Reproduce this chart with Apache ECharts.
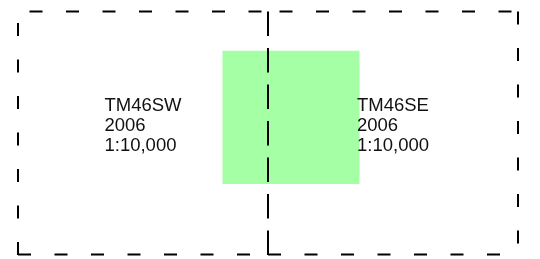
<!DOCTYPE html>
<html>
<head>
<meta charset="utf-8">
<script src="https://cdn.jsdelivr.net/npm/echarts@6/dist/echarts.min.js"></script>
<style>
    html, body { margin: 0; padding: 0; background: #fff; }
    #chart { width: 540px; height: 259px; }
</style>
</head>
<body>
<div id="chart"></div>
<script>
// map sheets (OS grid, metres)
const sheetNames = ['TM46SW', 'TM46SE'];
const sheetYears = ['2006', '2006'];
const sheetScales = ['1:10,000', '1:10,000'];
const sheetEastMin = [640000, 645000];
const sheetEastMax = [645000, 650000];
const sheetNorthMin = [260000, 260000];
const sheetNorthMax = [265000, 265000];

// area of interest (green square)
const areaEast = [644090, 646830];
const areaNorth = [261450, 264190];

const labelFont = '18.5px "Liberation Sans", Arial, sans-serif';

function textWidth(str, font) {
    const ctx = document.createElement('canvas').getContext('2d');
    ctx.font = font;
    return ctx.measureText(str).width;
}

function initChart() {
    const chart = echarts.init(document.getElementById('chart'));

    // each edge gets its own dash phase, like the original
    function dashedEdge(from, to, offset) {
        return {
            type: 'line',
            shape: { x1: from[0], y1: from[1], x2: to[0], y2: to[1] },
            style: {
                stroke: '#000',
                lineWidth: 2,
                lineDash: [11, 25.5],
                lineDashOffset: offset,
                lineCap: 'square'
            }
        };
    }

    function renderSheet(params, api) {
        const i = params.dataIndex;
        const tl = api.coord([api.value(0), api.value(3)]);
        const br = api.coord([api.value(2), api.value(1)]);
        const cx = (tl[0] + br[0]) / 2;
        const cy = (tl[1] + br[1]) / 2;
        const lines = [sheetNames[i], sheetYears[i], sheetScales[i]];
        const w = Math.max.apply(null, lines.map(s => textWidth(s, labelFont)));
        return {
            type: 'group',
            children: [
                dashedEdge([tl[0], tl[1]], [br[0], tl[1]], 24),
                dashedEdge([br[0], tl[1]], [br[0], br[1]], 35.5),
                dashedEdge([tl[0], br[1]], [br[0], br[1]], 35.5),
                dashedEdge([tl[0], tl[1]], [tl[0], br[1]], 24),
                {
                    type: 'text',
                    style: {
                        text: lines.join('\n'),
                        x: cx - w / 2,
                        y: cy - 7,
                        align: 'left',
                        verticalAlign: 'middle',
                        font: labelFont,
                        lineHeight: 19.8,
                        fill: '#111'
                    }
                }
            ]
        };
    }

    function renderArea(params, api) {
        const tl = api.coord([api.value(0), api.value(3)]);
        const br = api.coord([api.value(2), api.value(1)]);
        return {
            type: 'rect',
            shape: { x: tl[0], y: tl[1], width: br[0] - tl[0], height: br[1] - tl[1] },
            style: { fill: '#a5ffa5' }
        };
    }

    const sheetData = sheetNames.map((_, i) => [sheetEastMin[i], sheetNorthMin[i], sheetEastMax[i], sheetNorthMax[i]]);

    const option = {
        animation: false,
        grid: {
            left: 18,
            right: 22,
            top: 11.5,
            bottom: 4.5
        },
        xAxis: {
            type: 'value',
            min: 640000,
            max: 650000,
            show: false
        },
        yAxis: {
            type: 'value',
            min: 260000,
            max: 265000,
            show: false
        },
        series: [
            {
                type: 'custom',
                renderItem: renderArea,
                encode: { x: [0, 2], y: [1, 3] },
                data: [[areaEast[0], areaNorth[0], areaEast[1], areaNorth[1]]],
                silent: true
            },
            {
                type: 'custom',
                renderItem: renderSheet,
                encode: { x: [0, 2], y: [1, 3] },
                data: sheetData,
                silent: true
            }
        ]
    };
    chart.setOption(option);
}

document.addEventListener('DOMContentLoaded', initChart);
</script>
</body>
</html>
